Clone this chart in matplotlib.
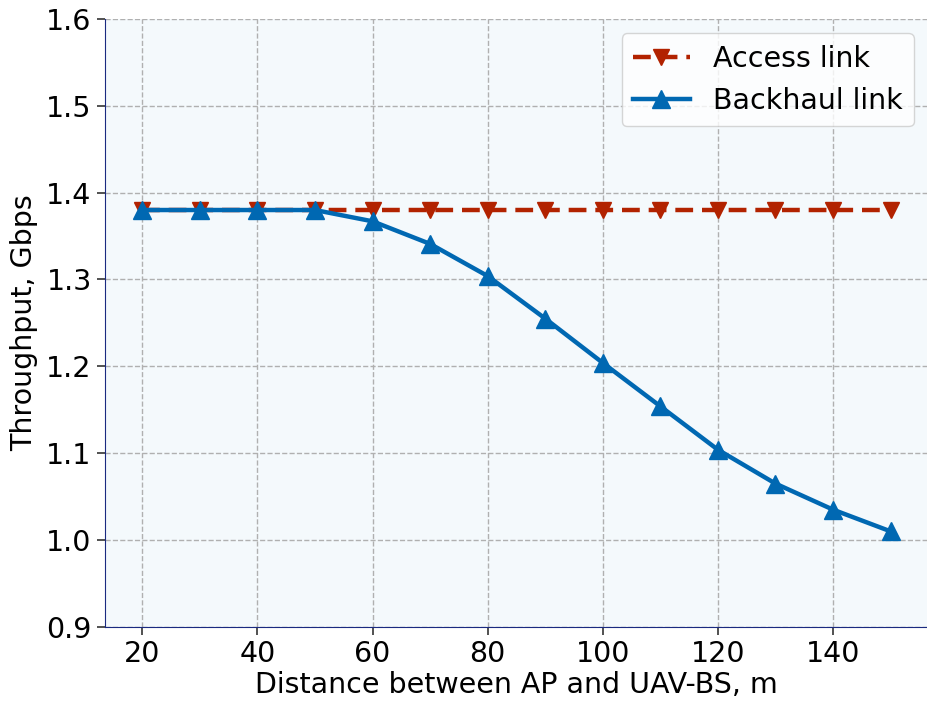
import numpy as np
from matplotlib import pyplot as plt

# distance between AP and UAV-BS, m
distance = [20, 30, 40, 50, 60, 70, 80, 90, 100, 110, 120, 130, 140, 150]
access = [1.38] * 14
backhaul = [1.38, 1.38, 1.38, 1.38, 1.367, 1.341, 1.304, 1.255, 1.204,
            1.154, 1.104, 1.065, 1.035, 1.010]

fig = plt.figure(figsize=(9.28, 7.02), dpi=100)
ax = fig.add_axes([0.113, 0.107, 0.887, 0.866])
ax.set_facecolor('#f4f9fc')

ax.plot(distance, access, '--v', color='#b22200', lw=3.2, ms=11, dashes=(4, 2),
        label='Access link')
ax.plot(distance, backhaul, '-^', color='#0068b2', lw=3.2, ms=13, label='Backhaul link')

ax.set_ylim(0.9, 1.6)
ax.set_yticks(np.arange(0.9, 1.61, 0.1))
ax.set_xticks([20, 40, 60, 80, 100, 120, 140])
ax.grid(True, ls='--', color='#b0b0b0', lw=1)
ax.set_axisbelow(True)

for s in ['top', 'right']:
    ax.spines[s].set_visible(False)
for s in ['left', 'bottom']:
    ax.spines[s].set_color('#1a2a80')
ax.tick_params(labelsize=20.5, length=6, width=1.2, color='#333333')

ax.set_xlabel('Distance between AP and UAV-BS, m', fontsize=20.5, labelpad=2)
ax.set_ylabel('Throughput, Gbps', fontsize=20.5, labelpad=6)
ax.legend(fontsize=20.5, loc='upper right', framealpha=0.8)

fig.savefig('out.png')
